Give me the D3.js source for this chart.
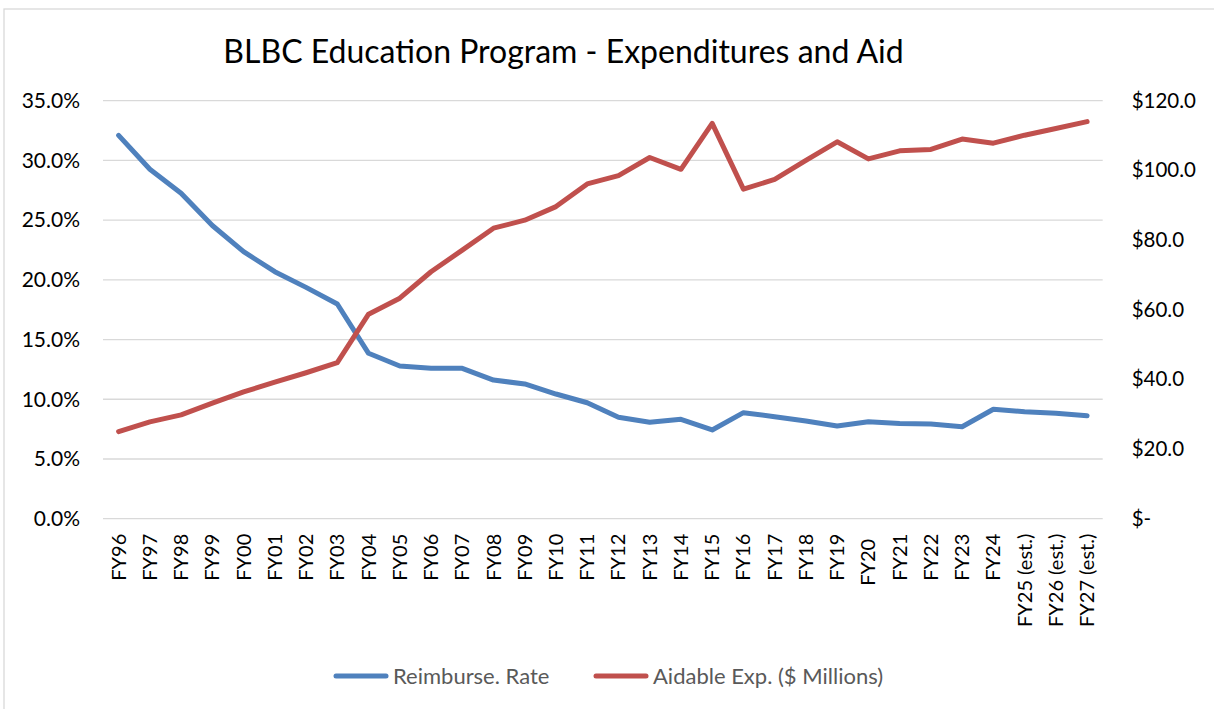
<!DOCTYPE html>
<html><head><meta charset="utf-8">
<script src="https://cdn.jsdelivr.net/npm/d3@7"></script>
<style>
html,body{margin:0;padding:0;background:#fff;}
svg{display:block;font-family:Lato,"Open Sans",sans-serif;}
</style></head>
<body><svg id="c" width="1214" height="709"></svg>
<script>
const categories = ["FY96","FY97","FY98","FY99","FY00","FY01","FY02","FY03","FY04","FY05","FY06","FY07","FY08","FY09","FY10","FY11","FY12","FY13","FY14","FY15","FY16","FY17","FY18","FY19","FY20 ","FY21","FY22","FY23","FY24","FY25 (est.)","FY26 (est.)","FY27 (est.)"];
const reimburseRate = [0.321,0.2926,0.2725,0.2455,0.2236,0.2068,0.1937,0.1798,0.1385,0.1279,0.1259,0.1259,0.1161,0.1128,0.1044,0.0971,0.0849,0.0807,0.0832,0.0743,0.0888,0.0854,0.0818,0.0776,0.0812,0.0798,0.0793,0.0770,0.0916,0.0896,0.0882,0.0862];
const aidableExp = [25.0,27.8,29.8,33.2,36.4,39.2,41.9,44.8,58.7,63.3,70.9,77.1,83.4,85.7,89.6,96.1,98.5,103.7,100.3,113.5,94.6,97.4,102.9,108.2,103.3,105.6,106.0,109.0,107.8,110.1,112.0,114.0];
const leftTicks = [0,0.05,0.10,0.15,0.20,0.25,0.30,0.35];
const rightTicks = [0,20,40,60,80,100,120];
const seriesNames = ["Reimburse. Rate","Aidable Exp. ($ Millions)"];

const svg = d3.select("#c");
const pL = 103, pR = 1102.7, pT = 100.7, pB = 518.7;
const blue = "#4F81BD", red = "#C0504D";

svg.append("rect").attr("x",4).attr("y",9).attr("width",1220).attr("height",720)
  .attr("fill","#fff").attr("stroke","#d9d9d9").attr("stroke-width",1.3);

const x = d3.scaleBand().domain(categories).range([pL,pR]);
const yL = d3.scaleLinear().domain([0,0.35]).range([pB,pT]);
const yR = d3.scaleLinear().domain([0,120]).range([pB,pT]);

// gridlines
svg.append("g").selectAll("line").data(leftTicks).join("line")
  .attr("x1",pL).attr("x2",pR).attr("y1",d=>yL(d)).attr("y2",d=>yL(d))
  .attr("stroke","#d9d9d9").attr("stroke-width",1.3);

// left axis
const gL = svg.append("g").attr("transform",`translate(${pL},0)`)
  .call(d3.axisLeft(yL).tickValues(leftTicks).tickFormat(d3.format(".1%")).tickSize(0).tickPadding(23));
gL.select(".domain").remove();
gL.selectAll("text").attr("font-size",21).attr("fill","#000").attr("font-family","Lato,sans-serif");

// right axis
const gR = svg.append("g").attr("transform",`translate(${pR},0)`)
  .call(d3.axisRight(yR).tickValues(rightTicks).tickFormat(d=> d===0 ? "$-" : "$"+d3.format(".1f")(d)).tickSize(0).tickPadding(29));
gR.select(".domain").remove();
gR.selectAll("text").attr("font-size",20.5).attr("fill","#000").attr("font-family","Lato,sans-serif");

// x axis
const gX = svg.append("g").attr("transform",`translate(0,${pB})`)
  .call(d3.axisBottom(x).tickSize(0).tickPadding(0));
gX.select(".domain").remove();
gX.selectAll("text")
  .attr("font-size",20).attr("fill","#000").attr("font-family","Lato,sans-serif")
  .style("white-space","pre")
  .attr("text-anchor","end").attr("dy","0.35em")
  .attr("transform","translate(0,15) rotate(-90)").attr("x",0).attr("y",0);

// lines
const cx = d => x(d) + x.bandwidth()/2;
svg.append("path").datum(categories.map((c,i)=>[cx(c),yL(reimburseRate[i])]))
  .attr("d",d3.line()).attr("fill","none").attr("stroke",blue).attr("stroke-width",5)
  .attr("stroke-linejoin","round").attr("stroke-linecap","round");
svg.append("path").datum(categories.map((c,i)=>[cx(c),yR(aidableExp[i])]))
  .attr("d",d3.line()).attr("fill","none").attr("stroke",red).attr("stroke-width",5)
  .attr("stroke-linejoin","round").attr("stroke-linecap","round");

// title
svg.append("text").attr("x",563.5).attr("y",63).attr("text-anchor","middle")
  .attr("font-size",32).attr("fill","#000").attr("font-family","Lato,sans-serif")
  .text("BLBC Education Program - Expenditures and Aid");

// legend
const legend = [{name:seriesNames[0],color:blue,x:336},{name:seriesNames[1],color:red,x:596}];
const lg = svg.append("g").selectAll("g").data(legend).join("g")
  .attr("transform",d=>`translate(${d.x},676)`);
lg.append("line").attr("x1",0).attr("x2",50).attr("stroke",d=>d.color).attr("stroke-width",5).attr("stroke-linecap","round");
lg.append("text").attr("x",57).attr("dy","0.35em").attr("font-size",22).attr("fill","#595959")
  .attr("font-family","Lato,sans-serif").text(d=>d.name);
</script></body></html>
